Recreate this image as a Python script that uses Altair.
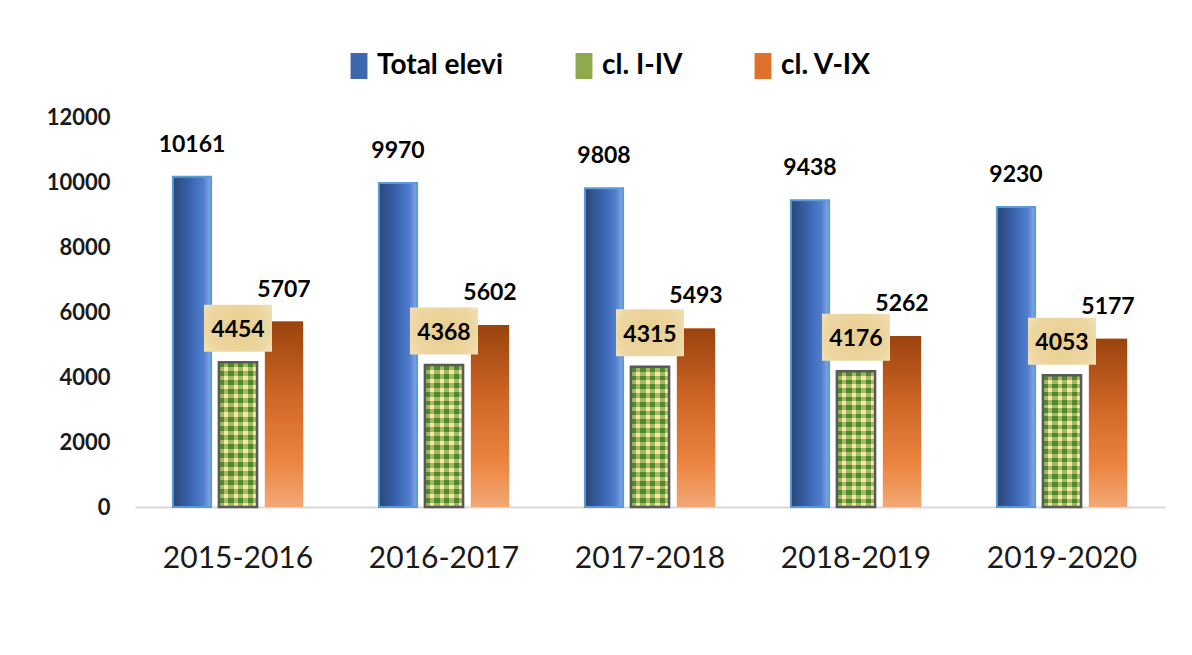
import altair as alt
import pandas as pd

years = ["2015-2016", "2016-2017", "2017-2018", "2018-2019", "2019-2020"]
total_elevi = [10161, 9970, 9808, 9438, 9230]
cl_i_iv = [4454, 4368, 4315, 4176, 4053]
cl_v_ix = [5707, 5602, 5493, 5262, 5177]
series = ["Total elevi", "cl. I-IV", "cl. V-IX"]
y_ticks = [0, 2000, 4000, 6000, 8000, 10000, 12000]

rows = []
for i, yr in enumerate(years):
    for s, vals in zip(series, [total_elevi, cl_i_iv, cl_v_ix]):
        rows.append({"an": yr, "serie": s, "val": vals[i]})
df = pd.DataFrame(rows)

FONT = "Lato"


def lin(stops, x1, y1, x2, y2):
    return alt.LinearGradient(
        gradient="linear",
        stops=[alt.GradientStop(color=c, offset=o) for o, c in stops],
        x1=x1, y1=y1, x2=x2, y2=y2,
    )


def stripes(n, c1, c2, frac=0.5):
    st = []
    for i in range(n):
        a = i / n
        m = (i + frac) / n
        b = (i + 1) / n
        st += [(a, c1), (m, c1), (m, c2), (b, c2)]
    return st


GREEN = "#4E8A2C"
YELLOW = "#F8E69E"

blue_grad = lin([(0, "#2A4676"), (0.45, "#3A63AE"), (0.8, "#4F7ED0"), (1, "#8AA9DE")], 0, 0, 1, 0)
orange_grad = lin([(0, "#9A430E"), (0.4, "#CF6626"), (0.75, "#EC8440"), (1, "#F2A874")], 0, 0, 0, 1)
green_h = lin(stripes(16, GREEN, YELLOW, 0.55), 0, 0, 0, 1)
green_v = lin(stripes(4, GREEN, YELLOW, 0.55), 0, 0, 1, 0)
box_grad = alt.RadialGradient(
    gradient="radial",
    stops=[alt.GradientStop(color="#E8CD8E", offset=0), alt.GradientStop(color="#EDD7A2", offset=0.6),
           alt.GradientStop(color="#F8ECCD", offset=1)],
    x1=0.5, y1=0.5, r1=0, x2=0.5, y2=0.5, r2=0.75,
)

x_enc = alt.X(
    "an:N", sort=years, title=None,
    scale=alt.Scale(paddingInner=0.33, paddingOuter=0.165),
    axis=alt.Axis(labelAngle=0, labelFont=FONT, labelFontSize=30, labelColor="#1A1A1A",
                  labelPadding=36, ticks=False, domain=True, domainColor="#D9D9D9",
                  domainWidth=2, grid=False),
)
xo_enc = alt.XOffset("serie:N", sort=series,
                     scale=alt.Scale(paddingInner=0.17, paddingOuter=0.085))
y_enc = alt.Y(
    "val:Q", title=None, scale=alt.Scale(domain=[0, 12000]),
    axis=alt.Axis(values=y_ticks, format="d", labelFont=FONT, labelFontSize=22,
                  labelFontWeight="bold", labelColor="#1A1A1A", labelPadding=25,
                  ticks=False, domain=False, grid=False),
)

base = alt.Chart(df).encode(x=x_enc, xOffset=xo_enc, y=y_enc)

legend_bars = base.mark_bar().encode(
    color=alt.Color(
        "serie:N", sort=series,
        scale=alt.Scale(domain=series, range=["#3F67B0", "#8FA94F", "#E0712C"]),
        legend=alt.Legend(
            title=None, orient="none", direction="horizontal", legendX=210, legendY=-65,
            symbolType="M-0.65,-1H0.65V1H-0.65Z", symbolSize=676, symbolStrokeWidth=0,
            labelFont=FONT, labelFontSize=28, labelFontWeight="bold", labelColor="#000000",
            labelOffset=4, columnPadding=66, padding=0,
        ),
    )
)

blue_bars = base.transform_filter(alt.datum.serie == "Total elevi").mark_bar(
    fill=blue_grad, stroke="#5B9BD5", strokeWidth=2)
orange_bars = base.transform_filter(alt.datum.serie == "cl. V-IX").mark_bar(fill=orange_grad)
green_bars_h = base.transform_filter(alt.datum.serie == "cl. I-IV").mark_bar(fill=green_h)
green_bars_v = base.transform_filter(alt.datum.serie == "cl. I-IV").mark_bar(
    fill=green_v, fillOpacity=0.5, stroke="#595959", strokeWidth=2.5)

labels = base.transform_filter(alt.datum.serie != "cl. I-IV").mark_text(
    dy=-32, baseline="middle", font=FONT, fontSize=23, fontWeight="bold", color="#000000"
).encode(text=alt.Text("val:Q", format="d"))

green_box = base.transform_filter(alt.datum.serie == "cl. I-IV").mark_point(
    shape="M-1,-0.69H1V0.69H-1Z", size=4624, filled=True, fill=box_grad, opacity=1,
    strokeWidth=0, yOffset=-34)
green_labels = base.transform_filter(alt.datum.serie == "cl. I-IV").mark_text(
    dy=-32, baseline="middle", font=FONT, fontSize=23, fontWeight="bold", color="#000000"
).encode(text=alt.Text("val:Q", format="d"))

chart = alt.layer(
    legend_bars, blue_bars, orange_bars, green_bars_h, green_bars_v,
    labels, green_box, green_labels,
).properties(
    width=1030, height=390,
    background="white",
    autosize=alt.AutoSizeParams(type="none"),
    padding={"left": 127, "top": 109, "right": 19, "bottom": 130},
).configure_view(strokeWidth=0, stroke="transparent", strokeOpacity=0)

chart.save("out.html", embed_options={"renderer": "svg", "actions": False})
